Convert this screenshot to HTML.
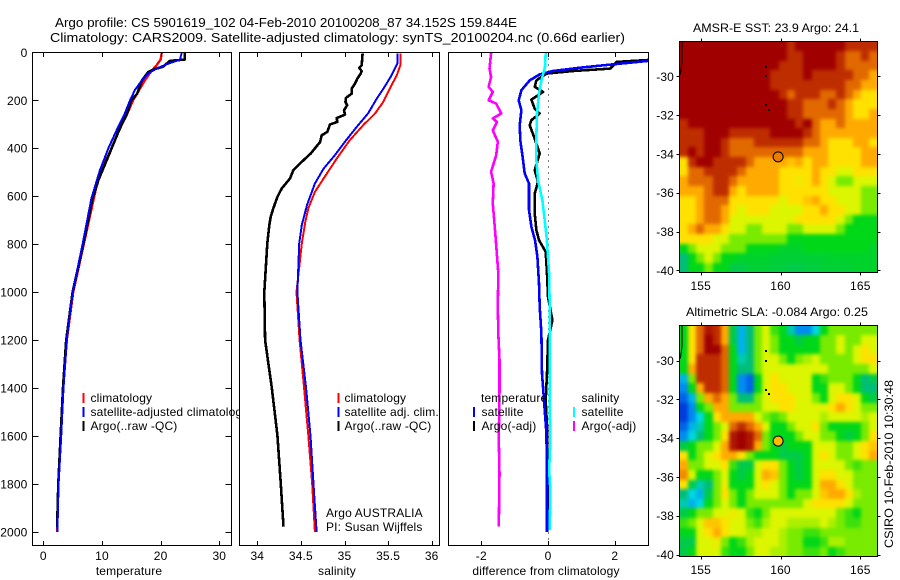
<!DOCTYPE html>
<html lang="en">
<head>
<meta charset="utf-8">
<title>Argo profile</title>
<style>
html,body{margin:0;padding:0;background:#fff}
svg{display:block}
text{font-family:"Liberation Sans",sans-serif;font-size:12px;fill:#000;letter-spacing:0.15px}
text[textLength]{letter-spacing:0}
</style>
</head>
<body>
<svg id="chart" xmlns="http://www.w3.org/2000/svg" width="900" height="580" viewBox="0 0 900 580">
<defs>
<clipPath id="clip-t"><rect x="32.5" y="52.5" width="199" height="493"/></clipPath>
<clipPath id="clip-s"><rect x="239.5" y="52.5" width="200" height="493"/></clipPath>
<clipPath id="clip-d"><rect x="448.5" y="52.5" width="200" height="493"/></clipPath>
<clipPath id="clip-m1"><rect x="679.5" y="41.5" width="198" height="231"/></clipPath>
<clipPath id="clip-m2"><rect x="679.5" y="325.5" width="198" height="231"/></clipPath>
<filter id="soften" x="-10%" y="-10%" width="120%" height="120%" color-interpolation-filters="sRGB"><feGaussianBlur stdDeviation="1.9"/></filter>
</defs>
<rect x="0" y="0" width="900" height="580" fill="#fff"/>
<text x="55" y="27" style="font-size:13px" textLength="462" lengthAdjust="spacingAndGlyphs">Argo profile: CS 5901619_102 04-Feb-2010 20100208_87 34.152S 159.844E</text>
<text x="50" y="42" style="font-size:13px" textLength="575" lengthAdjust="spacingAndGlyphs">Climatology: CARS2009. Satellite-adjusted climatology: synTS_20100204.nc (0.66d earlier)</text>

<g id="panel-t"></g>
<g>
<rect x="82.5" y="393" width="2" height="10" fill="#f00"/>
<text x="90.5" y="402">climatology</text>
<rect x="82.5" y="407" width="2" height="10" fill="#00f"/>
<text x="90.5" y="416">satellite-adjusted climatology</text>
<rect x="82.5" y="421" width="2" height="10" fill="#000"/>
<text x="90.5" y="430">Argo(..raw -QC)</text>
</g>

<rect x="239" y="46" width="209" height="499.5" fill="#fff"/>
<g id="panel-s"></g>
<g>
<rect x="337.5" y="393" width="2" height="10" fill="#f00"/>
<text x="344.5" y="402">climatology</text>
<rect x="337.5" y="407" width="2" height="10" fill="#00f"/>
<text x="344.5" y="416">satellite adj. clim.</text>
<rect x="337.5" y="421" width="2" height="10" fill="#000"/>
<text x="344.5" y="430">Argo(..raw -QC)</text>
</g>
<text x="326" y="517">Argo AUSTRALIA</text>
<text x="326" y="531">PI: Susan Wijffels</text>

<g id="panel-d"></g>
<g>
<text x="481" y="402">temperature</text>
<rect x="473" y="407" width="2" height="10" fill="#00f"/>
<text x="481.5" y="416">satellite</text>
<rect x="473" y="421" width="2" height="10" fill="#000"/>
<text x="481.5" y="430">Argo(-adj)</text>
<text x="581.5" y="402">salinity</text>
<rect x="573" y="407" width="2" height="10" fill="#0ff"/>
<text x="581.5" y="416">satellite</text>
<rect x="573" y="421" width="2" height="10" fill="#f0f"/>
<text x="581.5" y="430">Argo(-adj)</text>
</g>

<text x="693" y="32" textLength="166" lengthAdjust="spacingAndGlyphs">AMSR-E SST: 23.9 Argo: 24.1</text>
<g id="map-1"></g>
<text x="686" y="316" textLength="182" lengthAdjust="spacingAndGlyphs">Altimetric SLA: -0.084 Argo: 0.25</text>
<g id="map-2"></g>
<text transform="translate(893,548) rotate(-90)" textLength="168" lengthAdjust="spacingAndGlyphs">CSIRO 10-Feb-2010 10:30:48</text>
</svg>

<script>
// ---- profile data ----
const depthTicks = [0,200,400,600,800,1000,1200,1400,1600,1800,2000];
const tempTicks = [0,10,20,30];
const salTicks = [34,34.5,35,35.5,36];
const salTickLabels = ['34','34.5','35','35.5','36'];
const diffTicks = [-2,0,2];
const diffTickLabels = ['-2','0','2'];

const tempClimDepth = [0,31,54,82,117,151,200,262,332,400,478,533,609,800,1000,1200,1400,1600,1800,2000];
const tempClimValue = [20.2,20,19.3,18.3,17.3,16.5,15.3,14.2,12.8,11.65,10.2,9.3,8.6,6.9,5.1,4,3.4,3,2.56,2.35];
const tempSatDepth = [0,30,36,50,68,88,117,158,200,255,325,400,492,609,800,1000,1200,1400,1600,1800,2000];
const tempSatValue = [23.6,23.3,22.7,21,19.3,17.9,16.8,15.6,14.8,13.9,12.5,11.1,9.65,8.2,6.7,5,4,3.45,3.05,2.6,2.4];
const tempArgoDepth = [0,30,36,60,72,82,117,172,200,262,297,367,450,533,609,800,1000,1200,1400,1600,1800,1980];
const tempArgoValue = [24.1,24.1,21.6,20.4,18.7,17.9,16.8,16,15,14.2,13.4,12.2,10.8,9.4,8.4,6.8,5,3.9,3.35,2.95,2.55,2.35];

const salClimDepth = [5,54,96,151,207,255,304,367,443,526,582,651,707,797,1000,1200,1396,1596,1800,2000];
const salClimValue = [35.64,35.64,35.6,35.52,35.445,35.35,35.215,35.06,34.91,34.76,34.66,34.585,34.55,34.51,34.45,34.485,34.535,34.585,34.63,34.66];
const salSatDepth = [5,47,96,144,193,255,311,373,429,485,547,637,720,797,1000,1200,1400,1600,1800,2000];
const salSatValue = [35.606,35.606,35.54,35.46,35.37,35.27,35.14,35.005,34.89,34.76,34.66,34.57,34.51,34.48,34.46,34.495,34.56,34.61,34.645,34.68];
const salArgoDepth = [5,54,65,79,89,110,131,151,172,190,207,221,242,260,274,290,301,332,346,374,422,457,492,526,568,603,651,686,721,797,1000,1200,1396,1596,1800,1978];
const salArgoValue = [35.208,35.197,35.17,35.197,35.186,35.147,35.12,35.082,35.082,35.017,35.01,35.03,34.994,35.006,34.91,34.918,34.834,34.803,34.738,34.72,34.612,34.509,34.413,34.375,34.28,34.23,34.183,34.154,34.138,34.115,34.08,34.09,34.165,34.23,34.27,34.3];

const diffTempSatDepth = [0,36,50,64,78,92,117,158,200,242,304,367,429,505,547,658,728,783,853,964,1061,1172,1339,1450,1589,1756,2000];
const diffTempSatValue = [3.4,3,1.96,0.955,0.15,-0.25,-0.55,-0.8,-0.88,-0.8,-0.85,-0.83,-0.77,-0.7,-0.57,-0.57,-0.5,-0.39,-0.32,-0.27,-0.25,-0.2,-0.18,-0.12,-0.05,-0.03,-0.03];
const diffTempArgoDepth = [0,32,40,68,78,89,117,144,165,197,235,255,283,304,360,422,492,540,589,672,742,783,832,922,1019,1117,1200,1339,1450,1561,1950];
const diffTempArgoValue = [3.9,3,2.06,1.86,0.75,-0.05,-0.35,-0.4,-0.15,-0.5,-0.4,-0.25,-0.5,-0.55,-0.4,-0.25,-0.4,-0.3,-0.4,-0.4,-0.35,-0.27,-0.07,-0.03,0,0.13,0,-0.03,-0.07,-0.03,0];
const diffSalSatDepth = [3,61,117,172,255,339,450,533,617,700,776,922,1061,1200,1478,1617,1742,1825,1992];
const diffSalSatValue = [-0.07,-0.09,-0.2,-0.27,-0.33,-0.35,-0.35,-0.3,-0.17,-0.1,-0.04,0.03,0.05,0.05,0.05,0.07,0.03,0.07,0.05];
const diffSalArgoDepth = [3,68,103,144,165,200,214,255,276,290,325,373,429,498,547,630,776,922,1061,1172,1283,1408,1617,1756,1978];
const diffSalArgoValue = [-1.705,-1.755,-1.705,-1.78,-1.655,-1.78,-1.555,-1.405,-1.655,-1.53,-1.655,-1.505,-1.555,-1.705,-1.63,-1.655,-1.57,-1.49,-1.505,-1.49,-1.455,-1.455,-1.475,-1.455,-1.475];

// ---- map data: colour level per cell, north to south, west to east ----
const mapLonTicks = [155,160,165];
const mapLatTicks = [-30,-32,-34,-36,-38,-40];
const mapLatTickLabels = ['-30','-32','-34','-36','-38','-40'];
const sstRows = [
[11,11,11,11,11,11,11,11,11,11,11,11,11,10,11,11,11,11,11,11,10,10,10,10],
[11,11,11,11,11,11,11,11,11,11,11,11,11,10,10,11,11,11,11,10,9,9,10,9],
[11,11,11,11,11,11,11,11,11,11,11,11,10,10,10,11,11,11,11,10,9,9,9,9],
[11,11,11,11,11,11,11,11,11,11,11,10,10,10,10,11,10,10,10,10,10,9,9,8],
[11,11,11,11,11,11,11,11,11,11,11,10,10,10,10,10,10,10,10,10,9,9,8,8],
[11,11,11,11,11,11,11,11,11,11,11,11,10,9,10,10,10,9,9,10,9,8,7,7],
[11,11,11,11,11,11,11,11,11,11,11,11,11,10,10,9,9,9,10,9,8,7,7,7],
[11,11,11,11,11,11,11,11,11,11,11,11,11,10,10,9,9,9,9,9,8,7,7,8],
[10,11,11,11,11,11,11,11,11,11,11,11,11,11,10,11,9,8,8,9,8,8,8,8],
[10,10,10,11,11,11,10,10,10,10,10,11,11,11,11,10,9,8,8,8,8,8,8,8],
[10,10,10,11,11,10,9,9,9,10,10,10,10,10,10,9,9,8,7,7,7,8,8,7],
[10,11,10,11,11,10,9,9,9,9,9,9,9,9,9,8,8,8,7,7,7,7,8,8],
[7,10,11,11,10,10,10,10,9,8,8,8,8,7.5,8,7,8,8,7,7,7,7,8,8],
[7,9,9,10,10,10,10,9,8,8,8,8,7,7,7,7,8,7,7,6,6,7,7,7],
[8,9,9,9,10,10,9,8,8,8,8,8,7,7,6.5,7,8,7,6,5,5,6,6,6],
[8,8,8,9,10,10,8,7,8,8,8,8,7,7,7,7,7,7,6,6,6,6,5,5],
[7,7,8,9,9,9,7,7,7,7,7,7,6,7,7,7.5,8,7,7,6,6,6,5,5],
[7,7,8,9,9,8,7,6,7,7,7,6,6,6,6,7,7,8,7,7,6,6,5,5],
[7,7,8,9,9,8,6,6,6,6,6,6,6,6,7,7,7,7,7,6,5,4,4,4],
[7,8,9,8,8,7,6,6,5,5,6,6,6,5,5,6,6,6,6,5,4,4,4,4],
[7,7,7,7,6,6,5,5,5,5,5,5,5,4,4,4,4,4,4,4,4,4,4,4],
[4,5,6,6,6,5,5,5,4,4,4,4,3.8,3.8,3.8,4,4,4,4,4,4,4,4,3.8],
[3,4,5,6,5,4,4,3.8,3.8,3.8,3.8,3.7,3.7,3.7,3.7,3.7,3.7,3.7,3.8,3.8,3.8,3.8,3.8,3.8],
[3,4,4,5,4,4,3.5,3.5,3.7,3.7,3.7,3.6,3.6,3.5,3.5,3.6,3.6,3.7,3.7,3.7,3.7,3.8,3.8,3.8]
];
const slaRows = [
[4,7,9,10.5,10,8,3.5,1.5,3,5,6,4.5,4,2.5,1,1,2,4,5,5,5,5,5,5],
[4,7,9,11,10,8,3.5,1.5,3,5,6,5,4,4,3.5,4,4,5,5,6,5,5,6,6],
[4,7,9,11,11,9,4,1.5,3,5,6,5,4,4,4,4,4,5,5,6,5,6,7,6],
[4,7,10,10,10,9,4,2.5,3,5,6,6,5,4,5,5.5,6,5,5,5,5,6,7,7],
[4,8,10,10,10,9,4,3,3,5,6,6,6,6,6,6,6,6,5,5,5,5,5,6],
[1.5,5,10,10,10,9,4,1,0.5,4,6,7,6,6,6,6,4,4.5,5,5,5,4,3,3.5],
[1,4,8,10,10,9,4,1,0.5,4,6,7,7,6,6,6,4,4,6,6,5,4,3,3],
[0.5,1.5,5,8,9,8,5,3,3,5,6,7,7,7,6,6,5,4,6,7,7,6,4,3.5],
[0,1,4,5,8,8,5,5,5,5,6,6,7,7,6,6,6,6,7,8,7,6,5,5],
[0,1,2,4,7,8,8,8,8,6,5,4.5,5,6,6,6,6,5.5,6,6,6,6,5.5,6],
[0.5,1.5,2.5,4,5,6,9,10,9,8,6,4,4,5,6,6,7,5,4,4,4,4,5,6],
[1,2,3,4,5,7,10.5,11,10.5,9,5,4,4,4,5,6,6,5,5,4,3.5,4,5,7],
[3.5,4,5,5,6,8,10.5,11,10.5,8,5,4,3.5,4,4,4,6,6,6,5,5,6,7,7.5],
[7,4,5,6,7,8,8,7,5,4,4,4,3.5,3.5,3.5,4,6,7,6,5,5,6,7,8],
[8,5,5,6,6,7,4.5,3.5,3.5,6,7,7,5,4,3.5,4,6,6,6,6,5,4.5,5,5],
[8.5,6,4,4,5,6,4,3.5,4,6,8,7.5,5,4,3.5,4,6,7,7,6,6,5,5,5],
[7,3.5,2.5,3,5,6.5,4,4,4,6,7,6,5,4,4,4,6,8,8,7,6,5,5,5],
[3,2,1.5,3.5,5,7,5,4,5,6,6,6,5,4,5,5,6,7.5,8,8,7,5.5,5,5],
[2.5,1.5,2,4,5,6,5,4,5,5,5,5,5,5,5,6,7,7,7,7,6,5,5,5],
[3.5,4,5,5,6,6,6.5,6,4.5,4,5,6,6,6,6,6,6,6,6,5,4.5,4,5,5],
[4.5,5,6,7.5,7.5,7,6,6,5,4.5,5.5,6,6,5.5,5.5,5.5,5.5,6,5.5,5,4.5,4.5,5,5],
[4,4,6,7,8,7,6,6,5.5,5.5,6,6,5.5,5,5,4.5,4.5,5,5,5,5,5,5,5],
[3.5,3.5,6,6,6.5,5,4,4.5,5.5,6,6,6,5.5,5,5,4,4,4.5,5.5,5.5,5,5,5,5],
[3.5,4,6,6,6,4.5,4,4,5,6,6,5.5,5.5,5,5,4.5,4.5,5,4,4.5,5,5,5,5]
];
const coastLon = [153.83,153.83,153.72];
const coastLat = [-28.2,-29.3,-29.9];
const islandLon = [159.07,159.07,159.07,159.25];
const islandLat = [-29.5,-30.01,-31.5,-31.74];
const argoLon = [159.85];
const argoLat = [-34.152];
const argoSst = [8.7];
const argoSla = [7.7];

// ---- axis functions ----
const SVGNS = 'http://www.w3.org/2000/svg';
function lin(d0, p0, d1, p1) { return v => p0 + (v - d0) * (p1 - p0) / (d1 - d0); }
const depthY = lin(0, 52.3, 2000, 532);
const tempX = lin(0, 43.3, 30, 219.3);
const salX = lin(34, 257.3, 36, 431.7);
const diffX = lin(-2, 481.3, 2, 614.8);
const lonX = lin(155, 700.7, 165, 860.3);
const latY1 = lin(-30, 76.3, -40, 270.3);
const latY2 = lin(-30, 360.5, -40, 554.5);
const palette = [[0,60,220],[0,140,240],[0,215,225],[0,190,120],[0,215,25],[120,235,0],[220,245,0],[255,225,0],[255,170,0],[225,105,0],[190,45,0],[160,0,0]];

function colorOf(level) {
  const v = Math.max(0, Math.min(palette.length - 1, level));
  const i = Math.min(palette.length - 2, Math.floor(v));
  const f = v - i;
  const c = palette[i].map((a, k) => Math.round(a + (palette[i + 1][k] - a) * f));
  return 'rgb(' + c.join(',') + ')';
}
function make(parent, tag, props, txt) {
  const el = document.createElementNS(SVGNS, tag);
  for (const k in props) el.setAttribute(k, props[k]);
  if (txt !== undefined) el.textContent = txt;
  parent.appendChild(el);
  return el;
}
function drawCurve(parent, name, depths, values, xf, color, width, clip) {
  const pts = depths.map((d, i) => xf(values[i]).toFixed(1) + ',' + depthY(d).toFixed(1)).join(' ');
  const el = make(parent, 'polyline', {points: pts, fill: 'none', stroke: color, 'stroke-width': width, 'stroke-linejoin': 'round', 'shape-rendering': 'crispEdges', 'clip-path': 'url(#' + clip + ')'});
  
  
}
function drawPanel(parent, box, ticks, labels, xf, xTitle, titleX, showDepth) {
  const frame = make(parent, 'rect', {x: box[0], y: 52.5, width: box[1] - box[0], height: 493, fill: 'none', stroke: '#000', 'stroke-width': 1});
  
  
  ticks.forEach((t, i) => {
    const x = Math.round(xf(t)) + 0.5;
    const top = make(parent, 'line', {x1: x, x2: x, y1: 52.5, y2: 57, stroke: '#000', 'stroke-width': 1});
    
    
    const bot = make(parent, 'line', {x1: x, x2: x, y1: 541, y2: 545.5, stroke: '#000', 'stroke-width': 1});
    
    
    const lab = make(parent, 'text', {x: xf(t), y: 560, 'text-anchor': 'middle'}, labels[i]);
    
    
  });
  const title = make(parent, 'text', {x: titleX, y: 575, 'text-anchor': 'middle'}, xTitle);
  
  
  if (showDepth) {
    depthTicks.forEach(d => {
      const y = Math.round(depthY(d)) + 0.5;
      const a = make(parent, 'line', {x1: box[0], x2: box[0] + 6, y1: y, y2: y, stroke: '#000', 'stroke-width': 1});
      
      
      const b = make(parent, 'line', {x1: box[1] - 6, x2: box[1], y1: y, y2: y, stroke: '#000', 'stroke-width': 1});
      
      
      const lab = make(parent, 'text', {x: 27.5, y: depthY(d) + 4.5, 'text-anchor': 'end'}, String(d));
      
      
    });
  }
}
function drawMap(parent, rows, top, latY, clip, cellName, markerLevel, markerName) {
  const left = 679.5, right = 877.5, bottom = top + 231;
  const nr = rows.length;
  const clipGroup = make(parent, 'g', {'clip-path': 'url(#' + clip + ')'});
  
  
  const cells = make(clipGroup, 'g', {filter: 'url(#soften)'});
  
  
  rows.forEach((row, r) => {
    const nc = row.length;
    row.forEach((lvl, c) => {
      const x0 = Math.round(left + (right - left) * c / nc) - (c === 0 ? 12 : 0);
      const x1 = Math.round(left + (right - left) * (c + 1) / nc) + (c === nc - 1 ? 12 : 0);
      const y0 = Math.round(top + (bottom - top) * r / nr) - (r === 0 ? 12 : 0);
      const y1 = Math.round(top + (bottom - top) * (r + 1) / nr) + (r === nr - 1 ? 12 : 0);
      const cell = make(cells, 'rect', {x: x0, y: y0, width: x1 - x0, height: y1 - y0, fill: colorOf(lvl), 'shape-rendering': 'crispEdges'});
      
      
    });
  });
  const coast = make(parent, 'polyline', {points: coastLon.map((l, i) => lonX(l).toFixed(1) + ',' + latY(coastLat[i]).toFixed(1)).join(' '), fill: 'none', stroke: '#000', 'stroke-width': 1, 'clip-path': 'url(#' + clip + ')'});
  
  
  islandLon.forEach((l, i) => {
    const isle = make(parent, 'rect', {x: Math.round(lonX(l)) - 1, y: Math.round(latY(islandLat[i])) - 1, width: 2, height: 2, fill: '#000'});
    
    
  });
  const frame = make(parent, 'rect', {x: left, y: top, width: right - left, height: 231, fill: 'none', stroke: '#000', 'stroke-width': 1});
  
  
  mapLonTicks.forEach(l => {
    const x = Math.round(lonX(l)) + 0.5;
    const t = make(parent, 'line', {x1: x, x2: x, y1: top - 3, y2: top, stroke: '#000', 'stroke-width': 1});
    
    
    const b = make(parent, 'line', {x1: x, x2: x, y1: bottom, y2: bottom + 3, stroke: '#000', 'stroke-width': 1});
    
    
    const lab = make(parent, 'text', {x: lonX(l), y: bottom + 17.5, 'text-anchor': 'middle'}, String(l));
    
    
  });
  mapLatTicks.forEach((l, i) => {
    const y = Math.round(latY(l)) + 0.5;
    const a = make(parent, 'line', {x1: left - 3, x2: left, y1: y, y2: y, stroke: '#000', 'stroke-width': 1});
    
    
    const b = make(parent, 'line', {x1: right, x2: right + 3, y1: y, y2: y, stroke: '#000', 'stroke-width': 1});
    
    
    const lab = make(parent, 'text', {x: 674, y: latY(l) + 4.5, 'text-anchor': 'end'}, mapLatTickLabels[i]);
    
    
  });
  const mark = make(parent, 'circle', {cx: lonX(argoLon[0]), cy: latY(argoLat[0]), r: 5, fill: colorOf(markerLevel), stroke: '#000', 'stroke-width': 1});
  
  
}

// ---- temperature ----
const gT = document.getElementById('panel-t');
drawCurve(gT, 'climatology-temperature-line', tempClimDepth, tempClimValue, tempX, '#f00', 2.4, 'clip-t');
drawCurve(gT, 'argo-temperature-line', tempArgoDepth, tempArgoValue, tempX, '#000', 2.6, 'clip-t');
drawCurve(gT, 'satellite-temperature-line', tempSatDepth, tempSatValue, tempX, '#00f', 2, 'clip-t');
drawPanel(gT, [32.5, 231.5], tempTicks, tempTicks.map(String), tempX, 'temperature', 129, true);

// ---- salinity ----
const gS = document.getElementById('panel-s');
drawCurve(gS, 'climatology-salinity-line', salClimDepth, salClimValue, salX, '#f00', 2, 'clip-s');
drawCurve(gS, 'satellite-salinity-line', salSatDepth, salSatValue, salX, '#00f', 2, 'clip-s');
drawCurve(gS, 'argo-salinity-line', salArgoDepth, salArgoValue, salX, '#000', 2.6, 'clip-s');
drawPanel(gS, [239.5, 439.5], salTicks, salTickLabels, salX, 'salinity', 337, false);

// ---- difference ----
const gD = document.getElementById('panel-d');
const zero = make(gD, 'line', {x1: 548.5, x2: 548.5, y1: 52.5, y2: 545.5, stroke: '#000', 'stroke-width': 1, 'stroke-dasharray': '1 5'});


drawCurve(gD, 'argo-salinity-difference-line', diffSalArgoDepth, diffSalArgoValue, diffX, '#f0f', 2.6, 'clip-d');
drawCurve(gD, 'argo-temperature-difference-line', diffTempArgoDepth, diffTempArgoValue, diffX, '#000', 2.6, 'clip-d');
drawCurve(gD, 'satellite-temperature-difference-line', diffTempSatDepth, diffTempSatValue, diffX, '#00f', 2.6, 'clip-d');
drawCurve(gD, 'satellite-salinity-difference-line', diffSalSatDepth, diffSalSatValue, diffX, '#0ff', 2.6, 'clip-d');
drawPanel(gD, [448.5, 648.5], diffTicks, diffTickLabels, diffX, 'difference from climatology', 546, false);

// ---- maps ----
drawMap(document.getElementById('map-1'), sstRows, 41.5, latY1, 'clip-m1', 'sst-cell', argoSst[0], 'argo-position-marker');
drawMap(document.getElementById('map-2'), slaRows, 325.5, latY2, 'clip-m2', 'sla-cell', argoSla[0], 'argo-position-marker');
</script>
</body>
</html>
